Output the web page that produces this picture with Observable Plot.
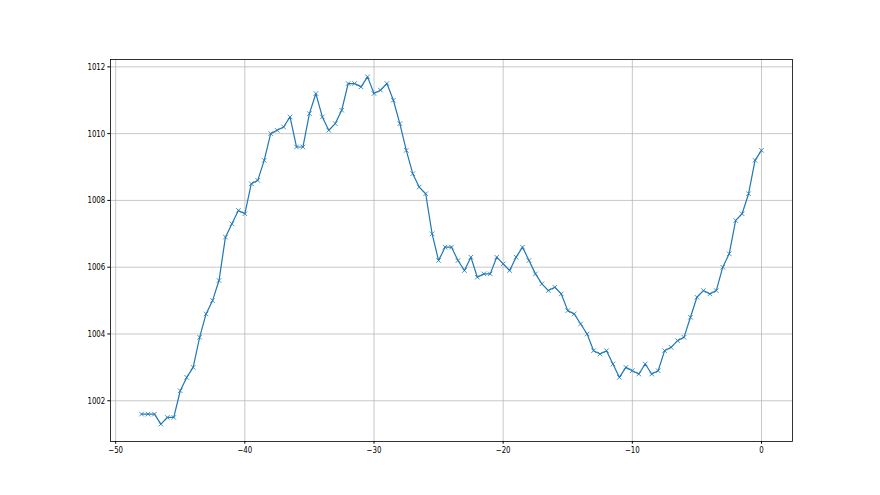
<!DOCTYPE html>
<html>
<head>
<meta charset="utf-8">
<script src="https://cdn.jsdelivr.net/npm/d3@7"></script>
<script src="https://cdn.jsdelivr.net/npm/@observablehq/plot@0.6"></script>
<style>
  html, body { margin: 0; padding: 0; background: #fff; }
  #chart svg { display: block; }
</style>
</head>
<body>
<div id="chart"></div>
<script>
const hours = [
  -48, -47.5, -47, -46.5, -46, -45.5, -45, -44.5, -44, -43.5,
  -43, -42.5, -42, -41.5, -41, -40.5, -40, -39.5, -39, -38.5,
  -38, -37.5, -37, -36.5, -36, -35.5, -35, -34.5, -34, -33.5,
  -33, -32.5, -32, -31.5, -31, -30.5, -30, -29.5, -29, -28.5,
  -28, -27.5, -27, -26.5, -26, -25.5, -25, -24.5, -24, -23.5,
  -23, -22.5, -22, -21.5, -21, -20.5, -20, -19.5, -19, -18.5,
  -18, -17.5, -17, -16.5, -16, -15.5, -15, -14.5, -14, -13.5,
  -13, -12.5, -12, -11.5, -11, -10.5, -10, -9.5, -9, -8.5,
  -8, -7.5, -7, -6.5, -6, -5.5, -5, -4.5, -4, -3.5,
  -3, -2.5, -2, -1.5, -1, -0.5, 0
];
const pressure = [
  1001.6, 1001.6, 1001.6, 1001.3, 1001.5, 1001.5, 1002.3, 1002.7, 1003.0, 1003.9,
  1004.6, 1005.0, 1005.6, 1006.9, 1007.3, 1007.7, 1007.6, 1008.5, 1008.6, 1009.2,
  1010.0, 1010.1, 1010.2, 1010.5, 1009.6, 1009.6, 1010.6, 1011.2, 1010.5, 1010.1,
  1010.3, 1010.7, 1011.5, 1011.5, 1011.4, 1011.7, 1011.2, 1011.3, 1011.5, 1011.0,
  1010.3, 1009.5, 1008.8, 1008.4, 1008.2, 1007.0, 1006.2, 1006.6, 1006.6, 1006.2,
  1005.9, 1006.3, 1005.7, 1005.8, 1005.8, 1006.3, 1006.1, 1005.9, 1006.3, 1006.6,
  1006.2, 1005.8, 1005.5, 1005.3, 1005.4, 1005.2, 1004.7, 1004.6, 1004.3, 1004.0,
  1003.5, 1003.4, 1003.5, 1003.1, 1002.7, 1003.0, 1002.9, 1002.8, 1003.1, 1002.8,
  1002.9, 1003.5, 1003.6, 1003.8, 1003.9, 1004.5, 1005.1, 1005.3, 1005.2, 1005.3,
  1006.0, 1006.4, 1007.4, 1007.6, 1008.2, 1009.2, 1009.5
];
const xTicks = [-50, -40, -30, -20, -10, 0];
const yTicks = [1002, 1004, 1006, 1008, 1010, 1012];

const data = hours.map((h, i) => ({h, p: pressure[i]}));

// matplotlib-style 5% margins
const [x0, x1] = d3.extent(hours);
const [y0, y1] = d3.extent(pressure);
const mx = (x1 - x0) * 0.05, my = (y1 - y0) * 0.05;

const fmt = d => String(d).replace("-", "\u2212");
const blue = "#1f77b4";

const chart = Plot.plot({
  width: 880,
  height: 495,
  marginLeft: 110,
  marginRight: 88,
  marginTop: 59,
  marginBottom: 54,
  style: {fontFamily: "DejaVu Sans", fontSize: "9px", background: "#fff", color: "#000"},
  x: {domain: [x0 - mx, x1 + mx]},
  y: {domain: [y0 - my, y1 + my]},
  marks: [
    Plot.gridX(xTicks, {stroke: "#b0b0b0", strokeOpacity: 1, strokeWidth: 0.7}),
    Plot.gridY(yTicks, {stroke: "#b0b0b0", strokeOpacity: 1, strokeWidth: 0.7}),
    Plot.line(data, {x: "h", y: "p", stroke: blue, strokeWidth: 1.2}),
    Plot.dot(data, {x: "h", y: "p", symbol: "times", r: 2.2, stroke: blue, strokeWidth: 0.8}),
    Plot.axisX(xTicks, {tickSize: 2.7, tickPadding: 2.3, tickFormat: fmt, label: null, fontSize: 9}),
    Plot.axisY(yTicks, {tickSize: 2.7, tickPadding: 2.5, tickFormat: fmt, label: null, fontSize: 9}),
    Plot.frame({stroke: "#000", strokeWidth: 0.8})
  ]
});
document.getElementById("chart").appendChild(chart);

// narrow the tick labels horizontally (reference text is horizontally compressed)
chart.querySelectorAll('g[aria-label$="tick label"] text').forEach(t => {
  const w = t.getComputedTextLength();
  if (w > 0) {
    t.setAttribute("textLength", (w * 0.78).toFixed(2));
    t.setAttribute("lengthAdjust", "spacingAndGlyphs");
  }
});
</script>
</body>
</html>
